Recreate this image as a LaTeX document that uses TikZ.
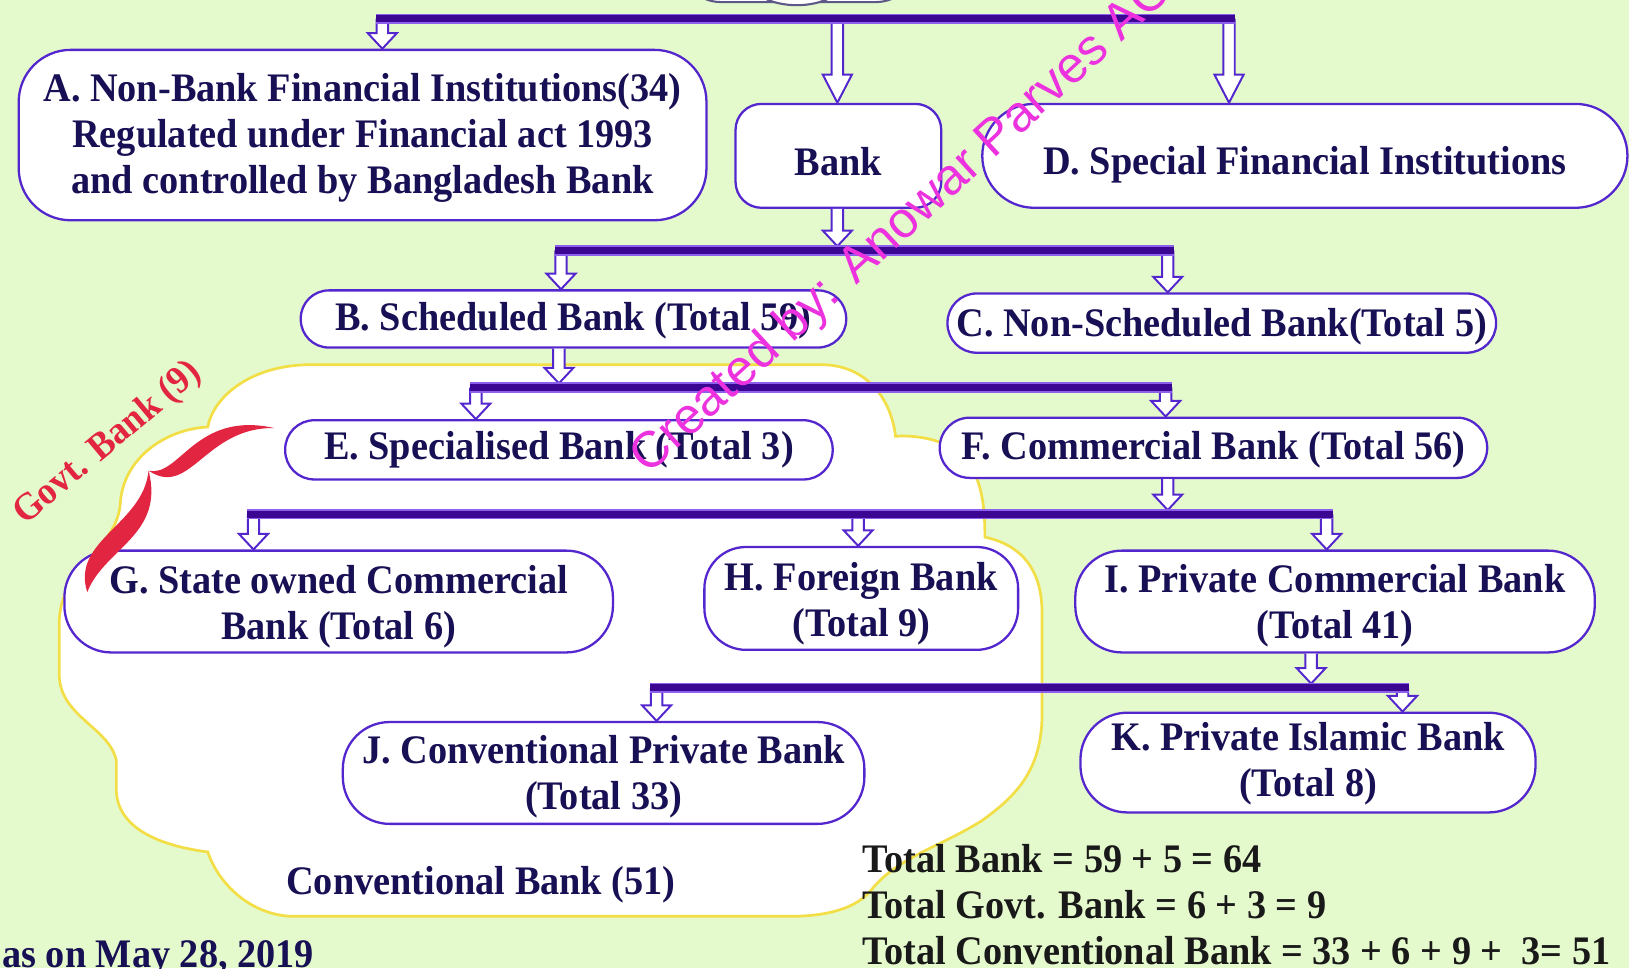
\documentclass[tikz,border=0pt]{standalone}
\usepackage{fontspec}
\setmainfont{Liberation Serif}[FakeStretch=0.945]
\newfontfamily\wmfont{Liberation Sans}
\usetikzlibrary{calc}

\definecolor{bgcol}{RGB}{229,250,204}
\definecolor{linecol}{RGB}{84,38,206}
\definecolor{barcol}{RGB}{58,6,146}
\definecolor{barrim}{RGB}{140,96,236}
\definecolor{txtcol}{RGB}{24,16,84}
\definecolor{cloudcol}{RGB}{242,222,70}
\definecolor{govtred}{RGB}{226,38,66}
\definecolor{wmcol}{RGB}{236,50,222}

\begin{document}
\begin{tikzpicture}[x=1pt,y=-1pt,
    inst/.style n args={3}{rectangle, draw=linecol, line width=2.2pt, fill=white,
      rounded corners=#3pt, minimum width=#1pt, minimum height=#2pt, inner sep=0pt,
      align=center, text=txtcol, font=\fontsize{39}{44.5}\selectfont\bfseries},
    tdrop/.style={execute at begin node={\rule{0pt}{#1pt}}},
    note/.style={text=txtcol, inner sep=0pt, font=\fontsize{39}{44.5}\selectfont\bfseries},
    bar/.style={draw=barcol, line width=7pt, preaction={draw=barrim, line width=10pt}},
    hollow/.style={draw=linecol, fill=white, line width=1.9pt, line join=miter,
      to path={let \p1=(\tikztostart), \p2=(\tikztotarget) in
        ({\x1-5.5pt},\y1) -- ({\x1-5.5pt},{\y2+#1pt}) -- ({\x1-14pt},{\y2+#1pt}) -- (\x1,\y2)
        -- ({\x1+14pt},{\y2+#1pt}) -- ({\x1+5.5pt},{\y2+#1pt}) -- ({\x1+5.5pt},\y1)}},
    hollow/.default=15]

\useasboundingbox (0,0) rectangle (1568,932);
\fill[bgcol] (0,0) rectangle (1568,932);

% title box, cut off at the top
\draw[line width=2pt, draw=txtcol!70, fill=white, rounded corners=40pt] (654,-90) rectangle (883,2);
\draw[line width=2pt, draw=txtcol!70, fill=white] (767,-19) ellipse [x radius=45, y radius=24];

% conventional bank area
\draw[draw=cloudcol, line width=2.6pt, fill=white] (300,351) -- (790,351)
  .. controls (835,351) and (858,385) .. (862,420)
  .. controls (885,418) and (930,425) .. (940,460)
  .. controls (948,480) and (948,505) .. (948,517)
  .. controls (985,525) and (1003,550) .. (1003,590)
  -- (1003,690)
  .. controls (1002,740) and (980,765) .. (945,790)
  .. controls (905,815) and (865,825) .. (840,855)
  .. controls (825,875) and (795,882) .. (760,882)
  -- (280,882)
  .. controls (240,880) and (210,850) .. (200,820)
  .. controls (160,815) and (114,800) .. (112,762)
  -- (112,732)
  .. controls (105,700) and (58,690) .. (57,650)
  -- (57,600)
  .. controls (57,545) and (114,530) .. (116,482)
  .. controls (120,440) and (160,413) .. (200,411)
  .. controls (205,383) and (240,351) .. (300,351) -- cycle;

% boxes
\node[inst={662}{164}{50}, tdrop=122] (A) at (349,130) {A. Non-Bank Financial Institutions(34)\\ Regulated under Financial act 1993\\ and controlled by Bangladesh Bank};
\node[inst={198}{100}{25}, tdrop=37.5] (bank) at (807,150) {Bank};
\node[inst={621}{100}{50}, tdrop=43.5] (D) at (1256,150) {D. Special Financial Institutions};
\node[inst={525}{55}{27}, tdrop=31.5] (B) at (552,307) {B. Scheduled Bank (Total 59)};
\node[inst={528}{57}{28}, tdrop=33.5] (C) at (1176,311) {C. Non-Scheduled Bank(Total 5)};
\node[inst={527}{57}{28}] (E) at (538,433) {E. Specialised Bank (Total 3)};
\node[inst={527}{58}{29}, tdrop=31.5] (F) at (1168,431) {F. Commercial Bank (Total 56)};
\node[inst={528}{98}{45}, tdrop=81.5] (G) at (326,579) {G. State owned Commercial\\ Bank (Total 6)};
\node[inst={302}{99}{40}, tdrop=81.5] (H) at (829,576) {H. Foreign Bank\\ (Total 9)};
\node[inst={500}{98}{45}, tdrop=79.5] (I) at (1285,579) {I. Private Commercial Bank\\ (Total 41)};
\node[inst={502}{98}{45}, tdrop=79.5] (J) at (581,744) {J. Conventional Private Bank\\ (Total 33)};
\node[inst={438}{96}{45}, tdrop=73.5] (K) at (1259,734) {K. Private Islamic Bank\\ (Total 8)};

% govt brace
\fill[govtred] (84,570) .. controls (68,520) and (138,505) .. (143,453)
  .. controls (173,460) and (188,395) .. (264,412)
  .. controls (197,411) and (183,480) .. (143,453)
  .. controls (159,515) and (100,528) .. (84,570) -- cycle;
\node[text=govtred, rotate=40, inner sep=0pt, font=\fontsize{37}{40}\selectfont\bfseries] (govt) at (104,427) {Govt. Bank (9)};

% points on the bars
\coordinate (tA) at (368,18); \coordinate (tbank) at (806,18); \coordinate (tD) at (1183,18);
\coordinate (bar2) at (806,241); \coordinate (tB) at (540,241); \coordinate (tC) at (1124,241);
\coordinate (bar3) at (538,373); \coordinate (tE) at (458,373); \coordinate (tF) at (1122,373);
\coordinate (bar4) at (1124,495); \coordinate (tG) at (244,495); \coordinate (tH) at (826,495); \coordinate (tI) at (1277,495);
\coordinate (bar5) at (1262,662); \coordinate (tJ) at (632,662); \coordinate (tK) at (1350,662);

% arrows
\foreach \st/\nm/\hl in {tA/A/15, tbank/bank/27, tD/D/27, tB/B/15, tC/C/15, tE/E/15, tF/F/15,
    tG/G/15, tH/H/15, tI/I/15, tJ/J/15, tK/K/15}{
  \coordinate (e\nm) at (\st |- \nm.north);
  \draw[hollow=\hl] (\st) to (e\nm);
}
\foreach \nm/\bt in {bank/bar2, B/bar3, F/bar4, I/bar5}{
  \coordinate (f\nm) at (\bt |- \nm.south);
  \coordinate (g\nm) at ([yshift=4pt]\bt);
  \draw[hollow] (f\nm) to (g\nm);
}

% bars
\draw[bar] ([xshift=-6pt]tA) -- ([xshift=6pt]tD);
\draw[bar] ([xshift=-6pt]tB) -- ([xshift=6pt]tC);
\draw[bar] ([xshift=-6pt]tE) -- ([xshift=6pt]tF);
\draw[bar] ([xshift=-6pt]tG) -- ([xshift=6pt]tI);
\draw[bar] ([xshift=-6pt]tJ) -- ([xshift=6pt]tK);

% notes
\node[note] (conv) at (463,852) {Conventional Bank (51)};
\node[note, anchor=base west] (date) at (2,931) {as on May 28, 2019};
\node[note, text=black!90, anchor=base west] (tot1) at (830,840) {Total Bank = 59 + 5 = 64};
\node[note, text=black!90, anchor=base west] (tot2) at (830,884) {Total Govt. Bank = 6 + 3 = 9};
\node[note, text=black!90, anchor=base west] (tot3) at (830,928) {Total Conventional Bank = 33 + 6 + 9 +\ \ 3= 51};

% watermark
\node[text=wmcol, rotate=42.5, anchor=base west, inner sep=0pt, font=\wmfont\fontsize{49}{49}\selectfont] (mark) at (624,458) {Created by: Anowar Parves ACC};
\end{tikzpicture}
\end{document}
